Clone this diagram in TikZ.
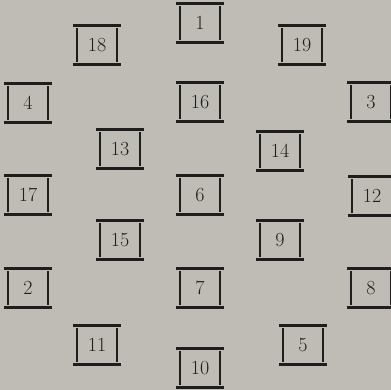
\documentclass[tikz,border=0pt]{standalone}
\usepackage{tikz}
\usetikzlibrary{positioning}

\definecolor{paper}{RGB}{190,188,181}
\definecolor{ink}{RGB}{30,30,28}

\begin{document}
\begin{tikzpicture}[
  x=1pt, y=-1pt,
  tile/.style={minimum width=40pt, minimum height=39pt, inner sep=0pt, font=\fontsize{20}{23}\selectfont, text=ink},
  rim/.style={draw=ink, line width=2.6pt},
  side/.style={draw=ink, line width=2.2pt}
]
\fill[paper] (0,0) rectangle (391,390);
\useasboundingbox (0,0) rectangle (391,390);

% numbered tiles
\foreach \lab/\x/\y in {1/200/23, 18/97/45, 19/302/45, 4/28/103, 16/200/102, 3/371/102,
  13/120/149, 14/280/151, 17/28/195, 6/200/195, 12/372/196, 15/120/240, 9/280/240,
  2/28/288, 7/200/288, 8/371/288, 11/97/345, 10/200/368, 5/303/345}
  \node[tile] (t\lab) at (\x,\y) {\lab};

% frames: top and bottom rims, then the two sides
\foreach \n in {1,...,19}{
  \draw[rim] ([xshift=-4pt]t\n.north west) -- ([xshift=4pt]t\n.north east);
  \draw[rim] ([xshift=-4pt]t\n.south west) -- ([xshift=4pt]t\n.south east);
  \draw[side] ([yshift=-3pt]t\n.north west) -- ([yshift=3pt]t\n.south west);
  \draw[side] ([yshift=-3pt]t\n.north east) -- ([yshift=3pt]t\n.south east);
}
\end{tikzpicture}
\end{document}
